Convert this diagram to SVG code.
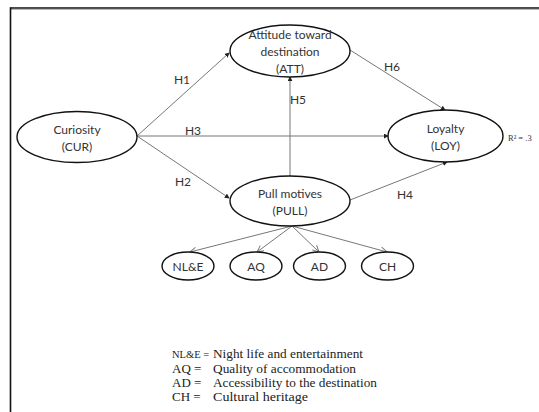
<svg xmlns="http://www.w3.org/2000/svg" width="539" height="412" viewBox="0 0 539 412">
<defs>
<marker id="dot" viewBox="0 0 6 6" refX="5" refY="3" markerWidth="5" markerHeight="5" markerUnits="userSpaceOnUse" orient="auto">
<path d="M0,0 L6,3 L0,6 z" fill="#222"/>
</marker>
<marker id="open" viewBox="0 0 10 10" refX="9" refY="5" markerWidth="8" markerHeight="8" markerUnits="userSpaceOnUse" orient="auto">
<path d="M1,1 L9,5 L1,9" fill="none" stroke="#777" stroke-width="1.2"/>
</marker>
<style>
.node ellipse{fill:#fff;stroke:#111;stroke-width:1.4}
.lbl{font-family:Lato,"Open Sans","Liberation Sans",sans-serif;font-size:12px;fill:#333;text-anchor:middle}
.conn line{stroke:#777;stroke-width:1}
.main{marker-end:url(#dot)}
.sub{marker-end:url(#open)}
.leg{font-family:"Liberation Serif",serif;font-size:13px;fill:#222}
</style>
</defs>
<rect x="0" y="0" width="539" height="412" fill="#fff"/>
<g id="frame">
<line x1="10.5" y1="8" x2="539" y2="8" stroke="#111" stroke-width="1.6"/>
<line x1="10.5" y1="9.4" x2="539" y2="9.4" stroke="#999" stroke-width="0.8"/>
<line x1="10.5" y1="7.2" x2="10.5" y2="412" stroke="#111" stroke-width="1.6"/>
</g>
<g id="connectors" class="conn">
<line class="main" x1="137" y1="136" x2="229" y2="53"/>
<line class="main" x1="137" y1="136" x2="388" y2="136"/>
<line class="main" x1="137" y1="136" x2="229" y2="198"/>
<line class="main" x1="290" y1="176" x2="290" y2="77"/>
<line class="main" x1="350" y1="50" x2="445" y2="110"/>
<line class="main" x1="350" y1="200" x2="447" y2="162"/>
<line class="sub" x1="292" y1="226" x2="190" y2="252"/>
<line class="sub" x1="292" y1="226" x2="257" y2="252"/>
<line class="sub" x1="292" y1="226" x2="319" y2="252"/>
<line class="sub" x1="292" y1="226" x2="387" y2="252"/>
</g>
<g id="edge-labels" class="lbl">
<text x="182" y="84">H1</text>
<text x="193" y="135">H3</text>
<text x="183" y="186">H2</text>
<text x="298" y="104">H5</text>
<text x="392" y="71">H6</text>
<text x="405" y="199">H4</text>
</g>
<g id="CUR" class="node">
<ellipse cx="77" cy="137" rx="60" ry="25.5"/>
<text class="lbl" x="77" y="134">Curiosity</text>
<text class="lbl" x="77" y="151">(CUR)</text>
</g>
<g id="ATT" class="node">
<ellipse cx="290" cy="51" rx="60" ry="26"/>
<text class="lbl" x="290" y="39">Attitude toward</text>
<text class="lbl" x="290" y="56">destination</text>
<text class="lbl" x="290" y="73">(ATT)</text>
</g>
<g id="LOY" class="node">
<ellipse cx="445.5" cy="136" rx="57.5" ry="26"/>
<text class="lbl" x="445.5" y="133">Loyalty</text>
<text class="lbl" x="445.5" y="150">(LOY)</text>
<text x="508" y="141" font-family="Liberation Serif,serif" font-size="8.5px" fill="#333">R² = .3</text>
</g>
<g id="PULL" class="node">
<ellipse cx="290" cy="201" rx="60" ry="25"/>
<text class="lbl" x="290" y="198">Pull motives</text>
<text class="lbl" x="290" y="215">(PULL)</text>
</g>
<g id="NLE" class="node">
<ellipse cx="188" cy="266" rx="26" ry="14"/>
<text class="lbl" x="188" y="270.5">NL&amp;E</text>
</g>
<g id="AQ" class="node">
<ellipse cx="256" cy="266" rx="26" ry="14"/>
<text class="lbl" x="256" y="270.5">AQ</text>
</g>
<g id="AD" class="node">
<ellipse cx="319.5" cy="266" rx="26" ry="14"/>
<text class="lbl" x="319.5" y="270.5">AD</text>
</g>
<g id="CH" class="node">
<ellipse cx="387.5" cy="266" rx="26" ry="14"/>
<text class="lbl" x="387.5" y="270.5">CH</text>
</g>
<g id="legend" class="leg">
<text x="172" y="358" font-size="10.5px">NL&amp;E =</text><text x="213" y="358" textLength="150" lengthAdjust="spacingAndGlyphs">Night life and entertainment</text>
<text x="172" y="373">AQ =</text><text x="213" y="373" textLength="143" lengthAdjust="spacingAndGlyphs">Quality of accommodation</text>
<text x="172" y="387">AD =</text><text x="213" y="387" textLength="164" lengthAdjust="spacingAndGlyphs">Accessibility  to the destination</text>
<text x="172" y="401">CH =</text><text x="213" y="401" textLength="95" lengthAdjust="spacingAndGlyphs">Cultural heritage</text>
</g>
</svg>
